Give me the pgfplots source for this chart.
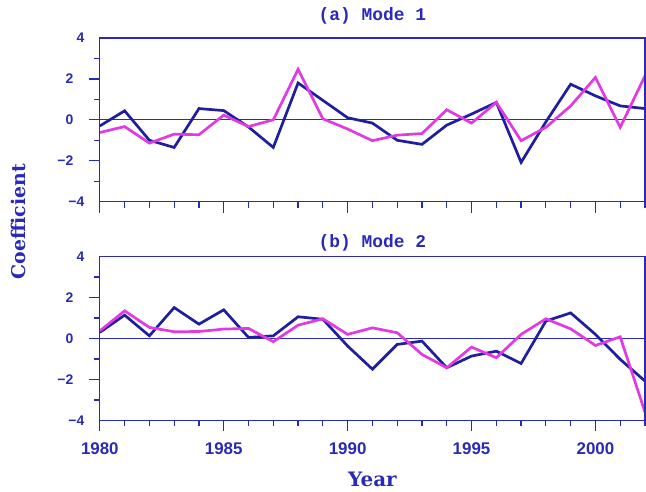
\documentclass[border=0pt]{standalone}
\usepackage{pgfplots}
\pgfplotsset{compat=1.18}
\usepackage{fontspec}
\setmainfont{Liberation Sans}
\newfontfamily\titlefont{Liberation Mono}
\newfontfamily\labelfont{DejaVu Serif}
\definecolor{clrNavy}{HTML}{1E1E9E}
\definecolor{clrPink}{HTML}{E23AE2}
\definecolor{clrAxis}{HTML}{2A2AB8}

% columns: a = Mode 1, b = Mode 2; blue / pink series
\pgfplotstableread{
year ablue apink bblue bpink
1980 -0.30 -0.62  0.30  0.37
1981  0.44 -0.33  1.14  1.35
1982 -1.00 -1.14  0.13  0.54
1983 -1.35 -0.70  1.51  0.33
1984  0.55 -0.73  0.70  0.34
1985  0.45  0.23  1.40  0.46
1986 -0.35 -0.33  0.05  0.49
1987 -1.35  0.00  0.13 -0.16
1988  1.80  2.47  1.06  0.65
1989  0.95  0.05  0.94  0.96
1990  0.10 -0.45 -0.37  0.20
1991 -0.16 -1.02 -1.50  0.52
1992 -1.00 -0.75 -0.29  0.28
1993 -1.20 -0.67 -0.13 -0.78
1994 -0.26  0.49 -1.43 -1.43
1995  0.28 -0.16 -0.86 -0.42
1996  0.85  0.85 -0.62 -0.94
1997 -2.08 -1.02 -1.22  0.20
1998 -0.10 -0.37  0.85  0.96
1999  1.74  0.68  1.25  0.47
2000  1.17  2.07  0.20 -0.34
2001  0.68 -0.37 -1.02  0.08
2002  0.55  2.15 -2.08 -3.60
}\modes

\pgfplotsset{
    modeax/.style={
        width=546bp, height=164bp, scale only axis,
        xmin=1980, xmax=2002, ymin=-4, ymax=4,
        ytick={-2,0,2}, minor ytick={-3,-1,1,3},
        yticklabels={−2,0,2},
        extra y ticks={-4,4}, extra y tick labels={−4,4},
        extra y tick style={major tick length=0pt},
        xtick={1980,1985,...,2000}, minor xtick={1980,...,2002},
        xtick pos=left, ytick pos=left,
        tick align=outside,
        major tick length=11bp, minor tick length=6bp,
        axis line style={clrAxis, line width=1.3bp},
        every tick/.style={clrAxis, line width=1.3bp},
        /pgf/number format/assume math mode=true,
        /pgf/number format/1000 sep={},
        yticklabel style={text=clrAxis, font=\fontsize{14}{14}\selectfont\bfseries, xshift=-12bp},
        xticklabel style={text=clrAxis, font=\fontsize{17}{17}\selectfont\bfseries, yshift=-8bp},
        title style={at={(0.5,1)}, anchor=center, yshift=16bp,
            text=clrAxis, font=\titlefont\fontsize{18}{18}\selectfont\bfseries},
        clip=false,
    },
}

\begin{document}
\begin{tikzpicture}
\useasboundingbox (-100bp,38bp) rectangle (547bp,-454bp);

\begin{axis}[modeax, at={(0,0)}, anchor=north west,
    xticklabels={}, title={(a) Mode 1}]
    \addplot[clrAxis, line width=1bp] coordinates {(1980,0) (2002,0)};
    \addplot[clrNavy, line width=2.7bp] table[x=year, y=ablue] {\modes};
    \addplot[clrPink, line width=2.7bp] table[x=year, y=apink] {\modes};
    \draw[clrAxis, line width=1.3bp] (rel axis cs:0,0) rectangle (rel axis cs:1,1);
\end{axis}

\begin{axis}[modeax, at={(0,-219bp)}, anchor=north west,
    title={(b) Mode 2}, title style={yshift=-8bp},
    xlabel={Year},
    xlabel style={text=clrAxis, font=\labelfont\fontsize{20}{20}\selectfont\bfseries, yshift=-10bp}]
    \addplot[clrAxis, line width=1bp] coordinates {(1980,0) (2002,0)};
    \addplot[clrNavy, line width=2.7bp] table[x=year, y=bblue] {\modes};
    \addplot[clrPink, line width=2.7bp] table[x=year, y=bpink] {\modes};
    \draw[clrAxis, line width=1.3bp] (rel axis cs:0,0) rectangle (rel axis cs:1,1);
\end{axis}

\node[rotate=90, text=clrAxis, font=\labelfont\fontsize{19}{19}\selectfont\bfseries]
    at (-82bp,-184bp) {Coefficient};
\end{tikzpicture}
\end{document}
